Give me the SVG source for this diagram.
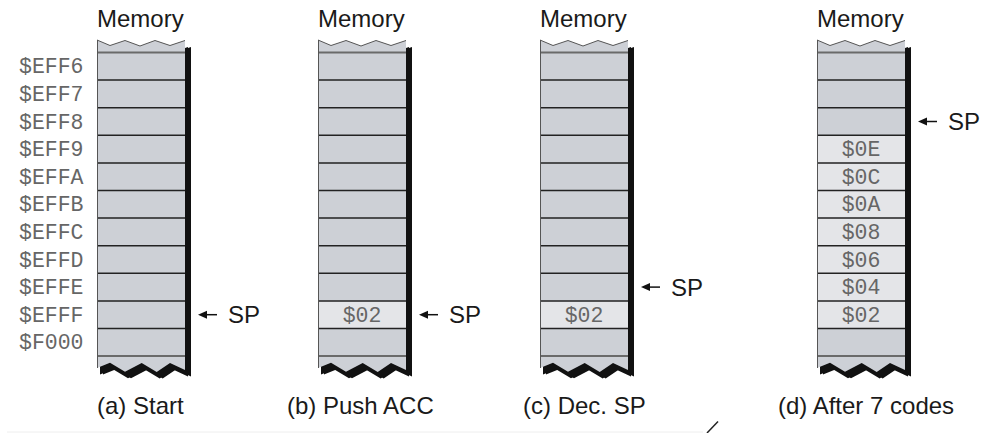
<svg xmlns="http://www.w3.org/2000/svg" xmlns:xlink="http://www.w3.org/1999/xlink" width="986" height="433" viewBox="0 0 986 433">
<style>
.sans{font-family:"Liberation Sans",Arial,sans-serif;font-size:24px;fill:#1a1a1a}
.mono{font-family:"Liberation Mono","Courier New",monospace;font-size:21.5px;fill:#666}
.cell{fill:#cdd0d6}
.light{fill:#e4e5e8}
.rows{stroke:#222;stroke-width:1.5;fill:none}
.cap{stroke:#6a6a6a;stroke-width:2;fill:none}
.edge{stroke:#555;stroke-width:1;fill:none}
.arr{stroke:#111;stroke-width:1.5}
</style>
<defs>
<polygon id="shape" points="0,40 13,45.5 28,40.5 43,46 58,40.5 73,45.5 88,40.5 88,370 73,363 59.7,372 44.7,363 28,371.7 13,362.7 0,368"/>
<path id="rowlines" d="M0,80.1H88M0,107.7H88M0,135.3H88M0,162.9H88M0,190.5H88M0,218.1H88M0,245.7H88M0,273.3H88M0,300.9H88M0,328.5H88"/>
<g id="frame">
<use xlink:href="#shape" transform="translate(6,6.5)" fill="#111"/>
<use xlink:href="#shape" transform="translate(3,6.5)" fill="#111"/>
<use xlink:href="#shape" class="cell"/>
</g>
<g id="overlay">
<use xlink:href="#rowlines" class="rows"/>
<path class="cap" d="M0,52.5H88M0,356.1H88"/>
<polyline class="edge" points="0,40 13,45.5 28,40.5 43,46 58,40.5 73,45.5 88,40.5"/>
<path class="edge" d="M0.5,40V368"/>
</g>
<g id="arrow">
<line class="arr" x1="20" y1="0" x2="32" y2="0"/>
<polygon points="13,0 22,-4 22,4" fill="#111"/>
</g>
</defs>
<rect width="986" height="433" fill="#fff"/>
<line x1="7" y1="432" x2="703" y2="432" stroke="#eee" stroke-width="1"/>
<line x1="707" y1="433" x2="718" y2="421.5" stroke="#222" stroke-width="1.5"/>

<g id="col-a">
<text class="sans" x="97" y="27">Memory</text>
<g transform="translate(97,0)">
<use xlink:href="#frame"/>
<use xlink:href="#overlay"/>
</g>
<g class="mono">
<text x="19" y="73.3">$EFF6</text>
<text x="19" y="100.9">$EFF7</text>
<text x="19" y="128.5">$EFF8</text>
<text x="19" y="156.1">$EFF9</text>
<text x="19" y="183.7">$EFFA</text>
<text x="19" y="211.3">$EFFB</text>
<text x="19" y="238.9">$EFFC</text>
<text x="19" y="266.5">$EFFD</text>
<text x="19" y="294.1">$EFFE</text>
<text x="19" y="321.7">$EFFF</text>
<text x="19" y="349.3">$F000</text>
</g>
<use xlink:href="#arrow" transform="translate(185,314.7)"/>
<text class="sans" x="228" y="323.2">SP</text>
<text class="sans" x="97" y="414">(a) Start</text>
</g>

<g id="col-b">
<text class="sans" x="318" y="27">Memory</text>
<g transform="translate(318,0)">
<use xlink:href="#frame"/>
<rect class="light" x="0" y="300.9" width="88" height="27.6"/>
<use xlink:href="#overlay"/>
</g>
<text class="mono" x="362" y="321.7" text-anchor="middle">$02</text>
<use xlink:href="#arrow" transform="translate(406,314.7)"/>
<text class="sans" x="449" y="323.2">SP</text>
<text class="sans" x="287" y="414">(b) Push ACC</text>
</g>

<g id="col-c">
<text class="sans" x="540" y="27">Memory</text>
<g transform="translate(540,0)">
<use xlink:href="#frame"/>
<rect class="light" x="0" y="300.9" width="88" height="27.6"/>
<use xlink:href="#overlay"/>
</g>
<text class="mono" x="584" y="321.7" text-anchor="middle">$02</text>
<use xlink:href="#arrow" transform="translate(628,287.1)"/>
<text class="sans" x="671" y="295.6">SP</text>
<text class="sans" x="523" y="414">(c) Dec. SP</text>
</g>

<g id="col-d">
<text class="sans" x="817" y="27">Memory</text>
<g transform="translate(817,0)">
<use xlink:href="#frame"/>
<rect class="light" x="0" y="135.3" width="88" height="193.2"/>
<use xlink:href="#overlay"/>
</g>
<g class="mono" text-anchor="middle">
<text x="861" y="156.1">$0E</text>
<text x="861" y="183.7">$0C</text>
<text x="861" y="211.3">$0A</text>
<text x="861" y="238.9">$08</text>
<text x="861" y="266.5">$06</text>
<text x="861" y="294.1">$04</text>
<text x="861" y="321.7">$02</text>
</g>
<use xlink:href="#arrow" transform="translate(905,121.5)"/>
<text class="sans" x="948" y="130">SP</text>
<text class="sans" x="778" y="414">(d) After 7 codes</text>
</g>
</svg>
